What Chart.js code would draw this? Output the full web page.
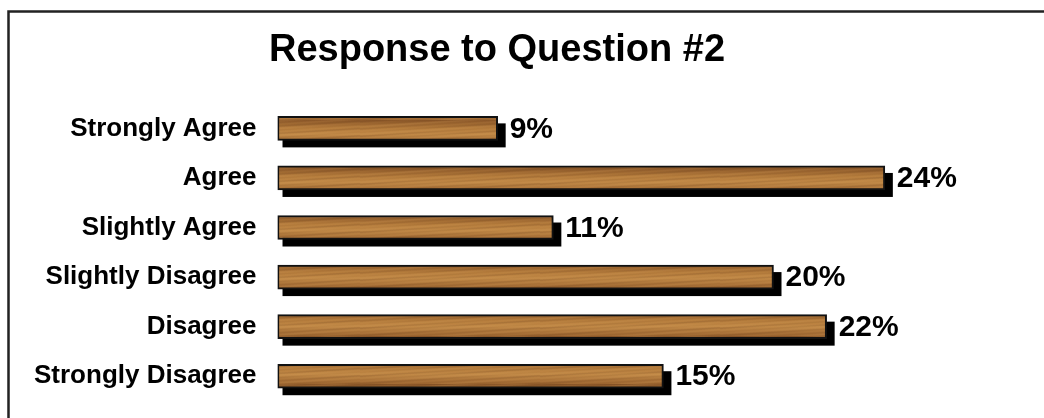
<!DOCTYPE html>
<html>
<head>
<meta charset="utf-8">
<script src="https://cdn.jsdelivr.net/npm/chart.js@4.4.1/dist/chart.umd.min.js"></script>
<style>
  html, body { margin: 0; padding: 0; background: #fff; overflow: hidden; }
  canvas { display: block; }
</style>
</head>
<body>
<canvas id="chartQuestion2" width="1044" height="418"></canvas>
<script>
const categories = ["Strongly Agree", "Agree", "Slightly Agree", "Slightly Disagree", "Disagree", "Strongly Disagree"];
const shares = [8.7, 24.0, 10.9, 19.6, 21.7, 15.25];
const shareLabels = ["9%", "24%", "11%", "20%", "22%", "15%"];

/**
 * Builds a small wood-grain tile used as the bar fill
 */
function makeWoodPattern(ctx) {
    const tile = document.createElement("canvas");
    tile.width = 180;
    tile.height = 24;
    const t = tile.getContext("2d");

    const grad = t.createLinearGradient(0, 0, 0, 24);
    grad.addColorStop(0, "#8a5628");
    grad.addColorStop(0.35, "#b57c3c");
    grad.addColorStop(0.6, "#c08846");
    grad.addColorStop(1, "#9c6530");
    t.fillStyle = grad;
    t.fillRect(0, 0, 180, 24);

    // grain streaks
    for (let row = 0; row < 24; row++) {
        for (let col = 0; col < 180; col += 3) {
            const v = Math.sin(col * 0.11 + row * 1.7) + Math.sin(col * 0.037 + row * 0.9) * 0.8;
            const a = Math.abs(v) * 0.09;
            t.fillStyle = v > 0 ? "rgba(90,50,20," + a + ")" : "rgba(225,170,100," + a + ")";
            t.fillRect(col, row, 3, 1);
        }
    }
    return ctx.createPattern(tile, "repeat");
}

const frameAndShadow = {
    id: "frameAndShadow",
    beforeDraw(chart) {
        const ctx = chart.ctx;
        ctx.save();
        ctx.strokeStyle = "#222";
        ctx.lineWidth = 2.5;
        ctx.strokeRect(8.5, 11.5, 1100, 500);
        ctx.restore();
    },
    beforeDatasetsDraw(chart) {
        const ctx = chart.ctx;
        const meta = chart.getDatasetMeta(0);
        ctx.save();
        ctx.fillStyle = "#000";
        meta.data.forEach(bar => {
            const h = bar.height;
            ctx.fillRect(bar.base + 5, bar.y - h / 2 + 7, bar.x - bar.base + 3, h);
        });
        ctx.restore();
    },
    afterDatasetsDraw(chart) {
        const ctx = chart.ctx;
        const meta = chart.getDatasetMeta(0);
        ctx.save();
        ctx.fillStyle = "#000";
        ctx.font = "bold 30px 'Liberation Sans', Arial, sans-serif";
        ctx.textAlign = "left";
        ctx.textBaseline = "middle";
        meta.data.forEach((bar, i) => {
            ctx.fillText(shareLabels[i], bar.x + 12, bar.y + 1);
        });
        ctx.restore();
    }
};

const canvas = document.getElementById("chartQuestion2");
const ctx = canvas.getContext("2d");

new Chart(ctx, {
    type: "bar",
    data: {
        labels: categories,
        datasets: [{
            label: "Response",
            data: shares,
            backgroundColor: makeWoodPattern(ctx),
            borderColor: "#111",
            borderWidth: 2,
            borderSkipped: false,
            barThickness: 24
        }]
    },
    options: {
        indexAxis: "y",
        responsive: false,
        animation: false,
        layout: {
            padding: { left: 13, right: 63, top: 12, bottom: 17 }
        },
        scales: {
            x: {
                min: 0,
                max: 27.8,
                display: false
            },
            y: {
                grid: { display: false, drawTicks: false },
                border: { display: false },
                ticks: {
                    color: "#000",
                    padding: 21,
                    font: { family: "'Liberation Sans', Arial, sans-serif", size: 26, weight: "bold" }
                },
                afterFit(scale) {
                    // labels sit inside the category bands, no extra room needed above/below
                    scale.paddingTop = 0;
                    scale.paddingBottom = 0;
                }
            }
        },
        plugins: {
            legend: { display: false },
            tooltip: { enabled: false },
            title: {
                display: true,
                text: "Response to Question #2",
                color: "#000",
                font: { family: "'Liberation Sans', Arial, sans-serif", size: 38, weight: "bold" },
                padding: { top: 16, bottom: 30 }
            }
        }
    },
    plugins: [frameAndShadow]
});
</script>
</body>
</html>
